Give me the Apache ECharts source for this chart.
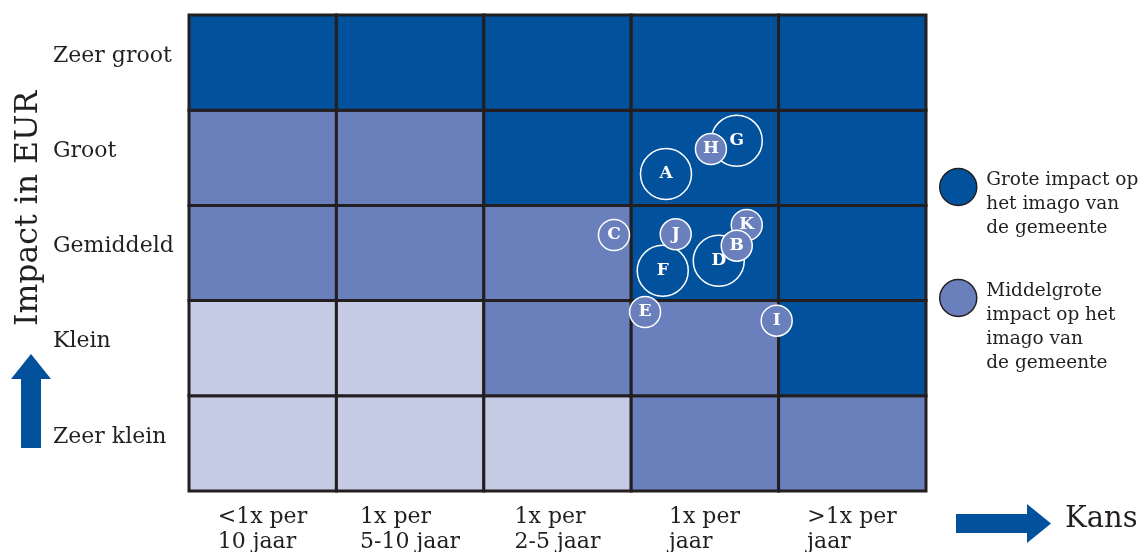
<!DOCTYPE html>
<html>
<head>
<meta charset="utf-8">
<style>
  html, body { margin: 0; padding: 0; background: #ffffff; }
  #chart { width: 1145px; height: 552px; }
</style>
<script src="https://cdn.jsdelivr.net/npm/echarts@6/dist/echarts.min.js"></script>
</head>
<body>
<div id="chart"></div>
<script>
// Kans (chance) categories along the bottom, left to right
const kansLabels = ['<1x per\n10 jaar', '1x per\n5-10 jaar', '1x per\n2-5 jaar', '1x per\njaar', '>1x per\njaar'];
// Impact categories, bottom to top
const impactLabels = ['Zeer klein', 'Klein', 'Gemiddeld', 'Groot', 'Zeer groot'];

// Risk level per cell: rows bottom to top, columns left to right (0 = laag, 1 = middel, 2 = hoog)
const riskLevels = [
  [0, 0, 0, 1, 1],
  [0, 0, 1, 1, 2],
  [1, 1, 1, 2, 2],
  [1, 1, 2, 2, 2],
  [2, 2, 2, 2, 2]
];

// Risks with a large image impact: [kans, impact, label]
const groteImpact = [
  [3.236, 3.330, 'A'],
  [3.716, 3.680, 'G'],
  [3.594, 2.419, 'D'],
  [3.214, 2.314, 'F']
];
// Risks with a medium image impact: [kans, impact, label]
const middelImpact = [
  [3.541, 3.592, 'H'],
  [2.883, 2.689, 'C'],
  [3.302, 2.696, 'J'],
  [3.784, 2.794, 'K'],
  [3.716, 2.577, 'B'],
  [3.094, 1.880, 'E'],
  [3.987, 1.789, 'I']
];

const nameGroot = 'Grote impact op het imago van de gemeente';
const nameMiddel = 'Middelgrote impact op het imago van de gemeente';
const legendLines = {};
legendLines[nameGroot] = 'Grote impact op\nhet imago van\nde gemeente';
legendLines[nameMiddel] = 'Middelgrote\nimpact op het\nimago van\nde gemeente';

const FONT = '"DejaVu Serif", "Liberation Serif", serif';
const TEXT = '#231f20';
const DARK = '#02519d';
const MID = '#6a80bd';
const LIGHT = '#c6cbe5';
const levelColors = [LIGHT, MID, DARK];

const cellData = [];
riskLevels.forEach((row, r) => row.forEach((lvl, c) => cellData.push([c, r, lvl])));

// Width of the widest line of each bottom label, so lines can be left-aligned in a centred block
const KANS_SIZE = 22;
const ctx = document.createElement('canvas').getContext('2d');
ctx.font = KANS_SIZE + 'px ' + FONT;
const kansRich = {};
kansLabels.forEach((lab, i) => {
  const w = Math.max(...lab.split('\n').map(s => ctx.measureText(s).width));
  kansRich['k' + i] = { width: Math.ceil(w), align: 'left', fontSize: KANS_SIZE, lineHeight: 25, fontFamily: FONT, color: TEXT };
});

// Legend text: a blank lead line pushes the text block below the icon's centre
function legendText(lead) {
  return {
    fontSize: 18.5, lineHeight: 24, color: TEXT, fontFamily: FONT,
    rich: { s: { fontSize: 10, lineHeight: lead } }
  };
}

const bubbleLabel = {
  show: true, position: 'inside', formatter: p => p.data[2],
  color: '#ffffff', fontSize: 17, fontWeight: 'bold', fontFamily: FONT
};

const chart = echarts.init(document.getElementById('chart'), null, { renderer: 'canvas' });

chart.setOption({
  animation: false,
  backgroundColor: '#ffffff',
  textStyle: { fontFamily: FONT },
  grid: { left: 189, right: 219, top: 15, bottom: 61, containLabel: false, outerBoundsMode: 'none' },
  xAxis: [
    { type: 'value', min: 0, max: 5, interval: 1, show: false },
    {
      type: 'category', data: kansLabels, position: 'bottom', boundaryGap: true,
      axisLine: { show: false }, axisTick: { show: false }, splitLine: { show: false },
      axisLabel: {
        margin: 14, interval: 0,
        formatter: (v, i) => '{k' + i + '|' + v + '}',
        rich: kansRich
      }
    }
  ],
  yAxis: [
    { type: 'value', min: 0, max: 5, interval: 1, show: false },
    {
      type: 'category', data: impactLabels, position: 'left', boundaryGap: true,
      axisLine: { show: false }, axisTick: { show: false }, splitLine: { show: false },
      axisLabel: {
        align: 'left', verticalAlign: 'bottom', lineHeight: 13,
        margin: 136, interval: 0,
        fontSize: 22, color: TEXT, fontFamily: FONT
      }
    }
  ],
  legend: [
    {
      data: [{ name: nameGroot, itemStyle: { color: DARK, borderColor: TEXT, borderWidth: 1.5 } }],
      left: 939, top: 134, padding: 0, icon: 'circle', itemWidth: 46, itemHeight: 37,
      selectedMode: false,
      formatter: n => '{s| }\n' + legendLines[n],
      textStyle: legendText(34)
    },
    {
      data: [{ name: nameMiddel, itemStyle: { color: MID, borderColor: TEXT, borderWidth: 1.5 } }],
      left: 939, top: 221, padding: 0, icon: 'circle', itemWidth: 46, itemHeight: 37,
      selectedMode: false,
      formatter: n => '{s| }\n' + legendLines[n],
      textStyle: legendText(58)
    }
  ],
  graphic: [
    {
      type: 'polygon', silent: true,
      shape: { points: [[21, 448], [21, 379], [11, 379], [31, 354], [51, 379], [41, 379], [41, 448]] },
      style: { fill: DARK }
    },
    {
      type: 'polygon', silent: true,
      shape: { points: [[956, 514], [1027, 514], [1027, 504], [1051, 523.5], [1027, 543], [1027, 533], [956, 533]] },
      style: { fill: DARK }
    },
    {
      type: 'text', silent: true, left: 1065, top: 505,
      style: { text: 'Kans', fontSize: 29, fontFamily: FONT, fill: TEXT }
    },
    {
      type: 'text', silent: true, x: 45, y: 326, rotation: Math.PI / 2,
      style: { text: 'Impact in EUR', fontSize: 31.5, fontFamily: FONT, fill: TEXT, textAlign: 'left', textVerticalAlign: 'bottom' }
    }
  ],
  series: [
    {
      type: 'custom', name: 'cellen', xAxisIndex: 0, yAxisIndex: 0,
      data: cellData, silent: true, z: 1,
      renderItem: (params, api) => {
        const c = api.value(0), r = api.value(1), lvl = api.value(2);
        const p0 = api.coord([c, r + 1]);
        const p1 = api.coord([c + 1, r]);
        return {
          type: 'rect',
          shape: { x: p0[0], y: p0[1], width: p1[0] - p0[0], height: p1[1] - p0[1] },
          style: { fill: levelColors[lvl], stroke: '#231f20', lineWidth: 3 }
        };
      }
    },
    {
      type: 'scatter', name: nameGroot, xAxisIndex: 0, yAxisIndex: 0, z: 3,
      data: groteImpact, symbolSize: 51,
      itemStyle: { color: DARK, borderColor: '#ffffff', borderWidth: 1.5, opacity: 1 },
      label: bubbleLabel,
      emphasis: { disabled: true }
    },
    {
      type: 'scatter', name: nameMiddel, xAxisIndex: 0, yAxisIndex: 0, z: 4,
      data: middelImpact, symbolSize: 31,
      itemStyle: { color: MID, borderColor: '#ffffff', borderWidth: 1.5, opacity: 1 },
      label: bubbleLabel,
      emphasis: { disabled: true }
    }
  ]
});
</script>
</body>
</html>
